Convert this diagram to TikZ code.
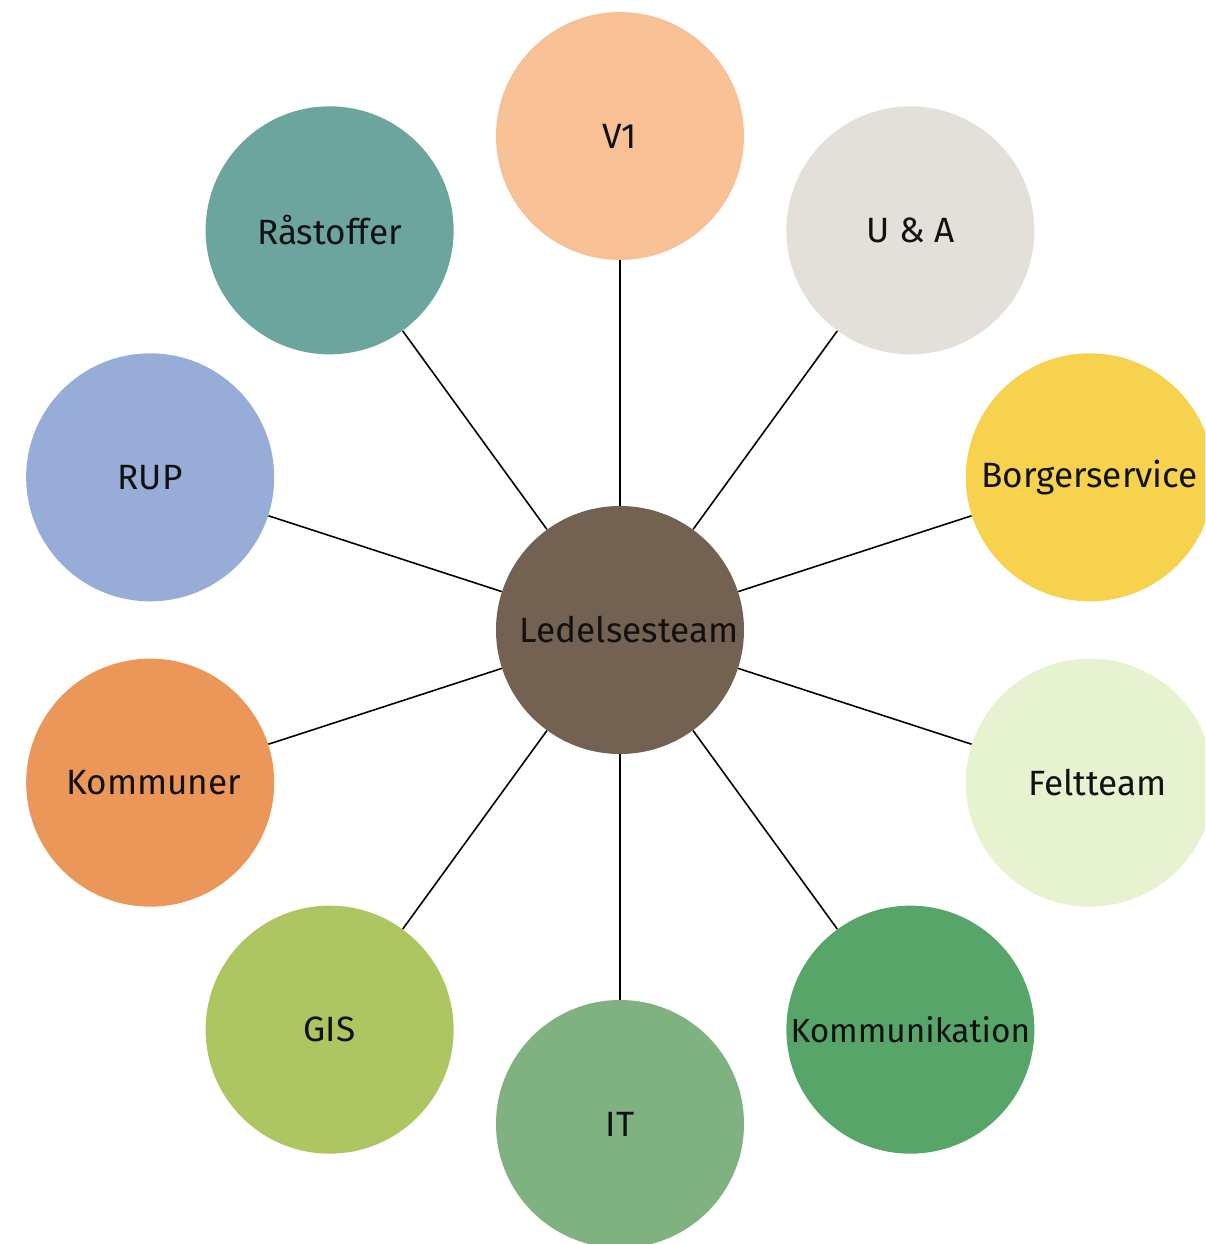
\documentclass[tikz,border=0pt]{standalone}
\usepackage{fontspec}
\setmainfont{Fira Sans}
\usepackage{xcolor}
\usetikzlibrary{shapes.geometric}

\definecolor{hubbrown}{HTML}{736251}
\definecolor{vpeach}{HTML}{F7C095}
\definecolor{uagrey}{HTML}{E2E0D8}
\definecolor{borgyellow}{HTML}{F6D24F}
\definecolor{feltlime}{HTML}{E6F2D0}
\definecolor{kommgreen}{HTML}{58A56A}
\definecolor{itgreen}{HTML}{80B181}
\definecolor{gisgreen}{HTML}{ADC662}
\definecolor{kmorange}{HTML}{EC975A}
\definecolor{rupblue}{HTML}{97ADD7}
\definecolor{rasteal}{HTML}{6CA59E}
\definecolor{labelblack}{HTML}{111111}

\begin{document}
\begin{tikzpicture}
[font=\fontsize{20}{23}\selectfont,
% STYLES
% The team style is used for every circle round the hub
team/.style={circle, inner sep=-0.4cm, minimum size=4.96cm, text=labelblack},
% The hub style is used for the management team in the middle
hub/.style={team, fill=hubbrown},
% The link style is used for the spokes
link/.style={draw=black, line width=0.9pt}]

\useasboundingbox (-12.4,-12.28) rectangle (11.7,12.6);
\clip (-12.4,-12.28) rectangle (11.7,12.6);

% Draw the hub
\node [hub] (lead) at (0,0) {\hspace{0.36cm}Ledelsesteam};

% Draw the teams
\node [team, fill=vpeach] (v1) at (90:9.88) {V1};
\node [team, fill=uagrey] (ua) at (54:9.88) {U \& A};
\node [team, fill=borgyellow] (borger) at (18:9.88) {Borgerservice};
\node [team, fill=feltlime] (felt) at (-18:9.88) {\hspace{0.3cm}Feltteam};
\node [team, fill=kommgreen] (kommunikation) at (-54:9.88) {\fontsize{19}{22}\selectfont Kommunikation};
\node [team, fill=itgreen] (it) at (-90:9.88) {IT};
\node [team, fill=gisgreen] (gis) at (-126:9.88) {GIS};
\node [team, fill=kmorange] (kommuner) at (-162:9.88) {\hspace{0.15cm}Kommuner};
\node [team, fill=rupblue] (rup) at (162:9.88) {RUP\hspace{0.24cm}};
\node [team, fill=rasteal] (raastoffer) at (126:9.88) {Råstoffer\hspace{0.24cm}};

% Draw the links between hub and teams
\path[link]
(lead) edge (v1)
(lead) edge (ua)
(lead) edge (borger)
(lead) edge (felt)
(lead) edge (kommunikation)
(lead) edge (it)
(lead) edge (gis)
(lead) edge (kommuner)
(lead) edge (rup)
(lead) edge (raastoffer);

\end{tikzpicture}
\end{document}
